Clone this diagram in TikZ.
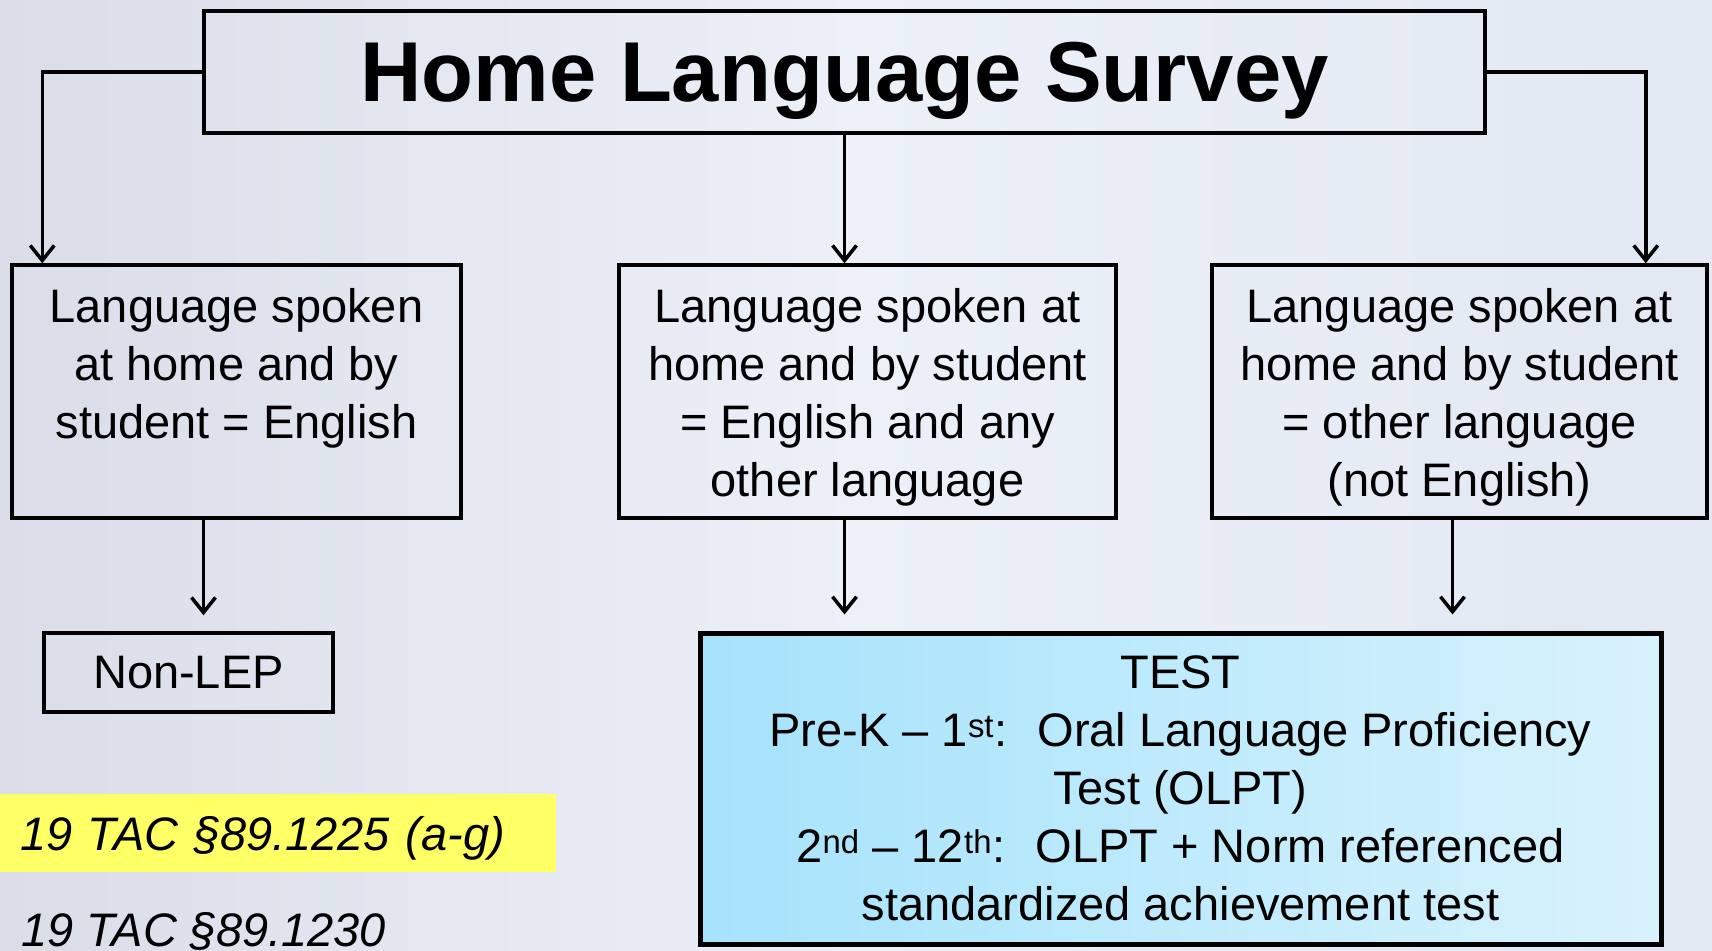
\documentclass[tikz,border=0pt]{standalone}
\usepackage{fontspec}
\setmainfont{Liberation Sans}
\usetikzlibrary{arrows.meta,positioning}
\definecolor{bgleft}{RGB}{216,221,232}
\definecolor{bgmid}{RGB}{236,241,248}
\definecolor{bgright}{RGB}{226,232,242}
\definecolor{testleft}{RGB}{166,227,252}
\definecolor{testright}{RGB}{216,242,252}
\definecolor{marker}{RGB}{255,255,102}
\newcommand{\boxtxt}[2]{\parbox[c][206pt][t]{#1}{\centering #2}}

\begin{document}
\begin{tikzpicture}[x=1pt, y=-1pt,
    main/.style = {draw, line width=3.5pt, inner sep=0pt,
                   font=\fontsize{47}{58}\selectfont},
    head/.style = {draw, line width=4pt, minimum width=1281pt, text depth=0pt,
                   minimum height=122pt, font=\fontsize{85}{100}\selectfont\bfseries},
    arr/.style = {-{Straight Barb[length=15pt,width=24pt]}, line width=3.5pt}]
\useasboundingbox (0,0) rectangle (1712,950);
\fill[left color=bgleft, right color=bgright, middle color=bgmid] (0,0) rectangle (1712,950);
\node[head] (survey) at (844.5,72) {Home Language Survey};
\node[main, minimum width=449pt, minimum height=253pt] (english) at (236.5,391.5)
    {\boxtxt{430pt}{Language spoken\\ at home and by\\ student = English}};
\node[main, minimum width=497pt, minimum height=253pt] (mixed) at (867.5,391.5)
    {\boxtxt{480pt}{Language spoken at\\ home and by student\\ = English and any\\ other language}};
\node[main, minimum width=495pt, minimum height=253pt] (other) at (1459.5,391.5)
    {\boxtxt{480pt}{Language spoken at\\ home and by student\\ = other language\\ (not English)}};
\node[main, minimum width=289pt, minimum height=79pt] (nonlep) at (188.5,672.5) {Non-LEP};
\node[main, line width=5pt, minimum width=961pt, minimum height=311pt,
      left color=testleft, right color=testright, align=center] (test) at (1180.5,788.5)
    {TEST\\ Pre-K – 1\textsuperscript{st}:~ Oral Language Proficiency\\ Test (OLPT)\\
     2\textsuperscript{nd} – 12\textsuperscript{th}:~ OLPT + Norm referenced\\
     standardized achievement test};
\node[fill=marker, minimum width=556pt, minimum height=78pt, text width=516pt,
      text depth=0pt, inner sep=0pt, font=\fontsize{47}{58}\selectfont\itshape] (tac1) at (278,833)
    {19 TAC §89.1225 (a-g)};
\node[anchor=base west, inner sep=0pt, font=\fontsize{47}{58}\selectfont\itshape] (tac2) at (21,946)
    {19 TAC §89.1230};
\draw[arr] (survey.west) -| ([xshift=32pt]english.north west);
\draw[arr] (survey.east) -| ([xshift=-63pt]other.north east);
\draw[arr] (survey.south) -- (survey.south |- mixed.north);
\draw[arr, shorten >=16pt] ([xshift=-33pt]english.south) -- ([xshift=-33pt]english.south |- nonlep.north);
\draw[arr, shorten >=16pt] (survey.south |- mixed.south) -- (survey.south |- test.north);
\draw[arr, shorten >=16pt] ([xshift=-7pt]other.south) -- ([xshift=-7pt]other.south |- test.north);
\end{tikzpicture}
\end{document}
